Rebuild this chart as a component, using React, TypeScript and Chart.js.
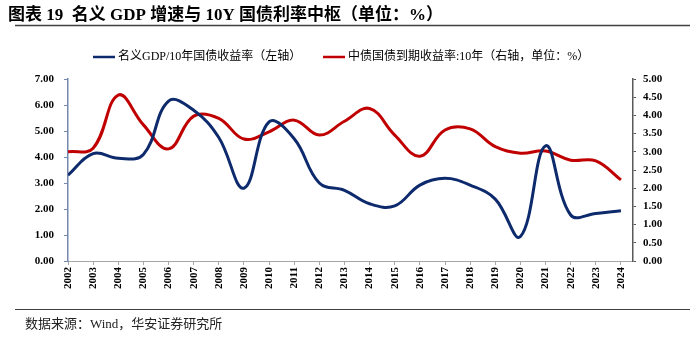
import React, { useEffect, useRef } from 'react';
import { Chart, registerables } from 'chart.js';

Chart.register(...registerables);

const TITLE = '图表 19  名义 GDP 增速与 10Y 国债利率中枢（单位：%）';
const SOURCE = '数据来源：Wind，华安证券研究所';

const years = [2002, 2003, 2004, 2005, 2006, 2007, 2008, 2009, 2010, 2011, 2012, 2013, 2014, 2015, 2016, 2017, 2018, 2019, 2020, 2021, 2022, 2023, 2024];
const gdpRatio = [3.3, 4.13, 3.95, 4.1, 6.15, 5.8, 4.75, 2.8, 5.35, 4.7, 3.0, 2.72, 2.2, 2.12, 2.92, 3.18, 2.92, 2.38, 0.94, 4.43, 1.77, 1.83, 1.93];
const cgb10y = [3.0, 3.1, 4.56, 3.74, 3.08, 3.98, 3.92, 3.35, 3.55, 3.87, 3.46, 3.84, 4.19, 3.46, 2.88, 3.6, 3.63, 3.14, 2.96, 3.02, 2.77, 2.75, 2.23];
const seriesNames = ['名义GDP/10年国债收益率（左轴）', '中债国债到期收益率:10年（右轴，单位：%）'];
const seriesColors = ['#0d2a6c', '#c00000'];
const leftAxis = { min: 0, max: 7, step: 1 };
const rightAxis = { min: 0, max: 5, step: 0.5 };

const SERIF = '"Liberation Serif", "Times New Roman", "Noto Sans CJK SC", serif';

const decor = {
  id: 'decor',
  beforeDraw(chart: any) {
    const ctx = chart.ctx;
    ctx.save();
    ctx.fillStyle = '#ffffff';
    ctx.fillRect(0, 0, chart.width, chart.height);
    ctx.restore();
  },
  afterDraw(chart: any) {
    const ctx = chart.ctx;
    ctx.save();
    // title
    ctx.fillStyle = '#000000';
    ctx.font = 'bold 17px ' + SERIF;
    ctx.textBaseline = 'alphabetic';
    ctx.textAlign = 'left';
    ctx.fillText(TITLE, 8, 20);
    // title rule
    ctx.strokeStyle = '#404040';
    ctx.lineWidth = 1.5;
    ctx.beginPath();
    ctx.moveTo(15, 25.5);
    ctx.lineTo(690, 25.5);
    ctx.stroke();
    // legend
    const starts = [93, 323];
    ctx.font = '12px ' + SERIF;
    ctx.textBaseline = 'middle';
    chart.data.datasets.forEach((ds: any, i: number) => {
      const x = starts[i];
      ctx.strokeStyle = ds.borderColor;
      ctx.lineWidth = 2.5;
      ctx.beginPath();
      ctx.moveTo(x, 57);
      ctx.lineTo(x + 22, 57);
      ctx.stroke();
      ctx.fillStyle = '#000000';
      ctx.fillText(ds.label, x + 25, 57);
    });
    // source rule
    ctx.strokeStyle = '#404040';
    ctx.lineWidth = 1.2;
    ctx.beginPath();
    ctx.moveTo(15, 309.5);
    ctx.lineTo(690, 309.5);
    ctx.stroke();
    ctx.fillStyle = '#222222';
    ctx.font = '13px ' + SERIF;
    ctx.textBaseline = 'middle';
    ctx.fillText(SOURCE, 25, 325);
    ctx.restore();
  },
};

export default function App() {
  const ref = useRef<HTMLCanvasElement | null>(null);
  useEffect(() => {
    if (!ref.current) return;
    const tickFont = { family: SERIF, size: 11, weight: 'bold' as const };
    const chart = new Chart(ref.current, {
      type: 'line',
      data: {
        datasets: [
          {
            label: seriesNames[0],
            data: years.map((y, i) => ({ x: y, y: gdpRatio[i] })),
            borderColor: seriesColors[0],
            backgroundColor: seriesColors[0],
            borderWidth: 3,
            pointRadius: 0,
            tension: 0.4,
            yAxisID: 'yL',
          },
          {
            label: seriesNames[1],
            data: years.map((y, i) => ({ x: y, y: cgb10y[i] })),
            borderColor: seriesColors[1],
            backgroundColor: seriesColors[1],
            borderWidth: 3,
            pointRadius: 0,
            tension: 0.4,
            yAxisID: 'yR',
          },
        ],
      },
      options: {
        animation: false,
        responsive: false,
        maintainAspectRatio: false,
        devicePixelRatio: 1,
        layout: { padding: { top: 79, left: 0, right: 0, bottom: 0 } },
        plugins: {
          legend: { display: false },
          tooltip: { enabled: false },
          title: { display: false },
        },
        scales: {
          x: {
            type: 'linear',
            min: years[0],
            max: years[years.length - 1] + 0.48,
            afterFit: (s: any) => { s.height = 78; },
            border: { color: '#a6a6a6', width: 1 },
            grid: { drawOnChartArea: false, tickLength: 4, color: '#a6a6a6' },
            ticks: {
              stepSize: 1,
              includeBounds: false,
              autoSkip: false,
              maxRotation: 90,
              minRotation: 90,
              padding: 2,
              color: '#000000',
              font: tickFont,
              callback: (v: any) => String(v),
            },
          },
          yL: {
            position: 'left',
            min: leftAxis.min,
            max: leftAxis.max,
            afterFit: (s: any) => { s.width = 68; },
            border: { color: '#7488ad', width: 1.5 },
            grid: { drawOnChartArea: false, tickLength: 4, color: '#7488ad' },
            ticks: {
              stepSize: leftAxis.step,
              padding: 10,
              color: '#000000',
              font: tickFont,
              callback: (v: any) => Number(v).toFixed(2),
            },
          },
          yR: {
            position: 'right',
            min: rightAxis.min,
            max: rightAxis.max,
            afterFit: (s: any) => { s.width = 67; },
            border: { color: '#595959', width: 1.5 },
            grid: { drawOnChartArea: false, tickLength: 3, color: '#595959' },
            ticks: {
              stepSize: rightAxis.step,
              padding: 7,
              color: '#000000',
              font: tickFont,
              callback: (v: any) => Number(v).toFixed(2),
            },
          },
        },
      },
      plugins: [decor],
    } as any);
    return () => chart.destroy();
  }, []);
  return (
    <div style={{ position: 'absolute', left: 0, top: 0, width: 700, height: 339 }}>
      <canvas ref={ref} width={700} height={339} />
    </div>
  );
}
